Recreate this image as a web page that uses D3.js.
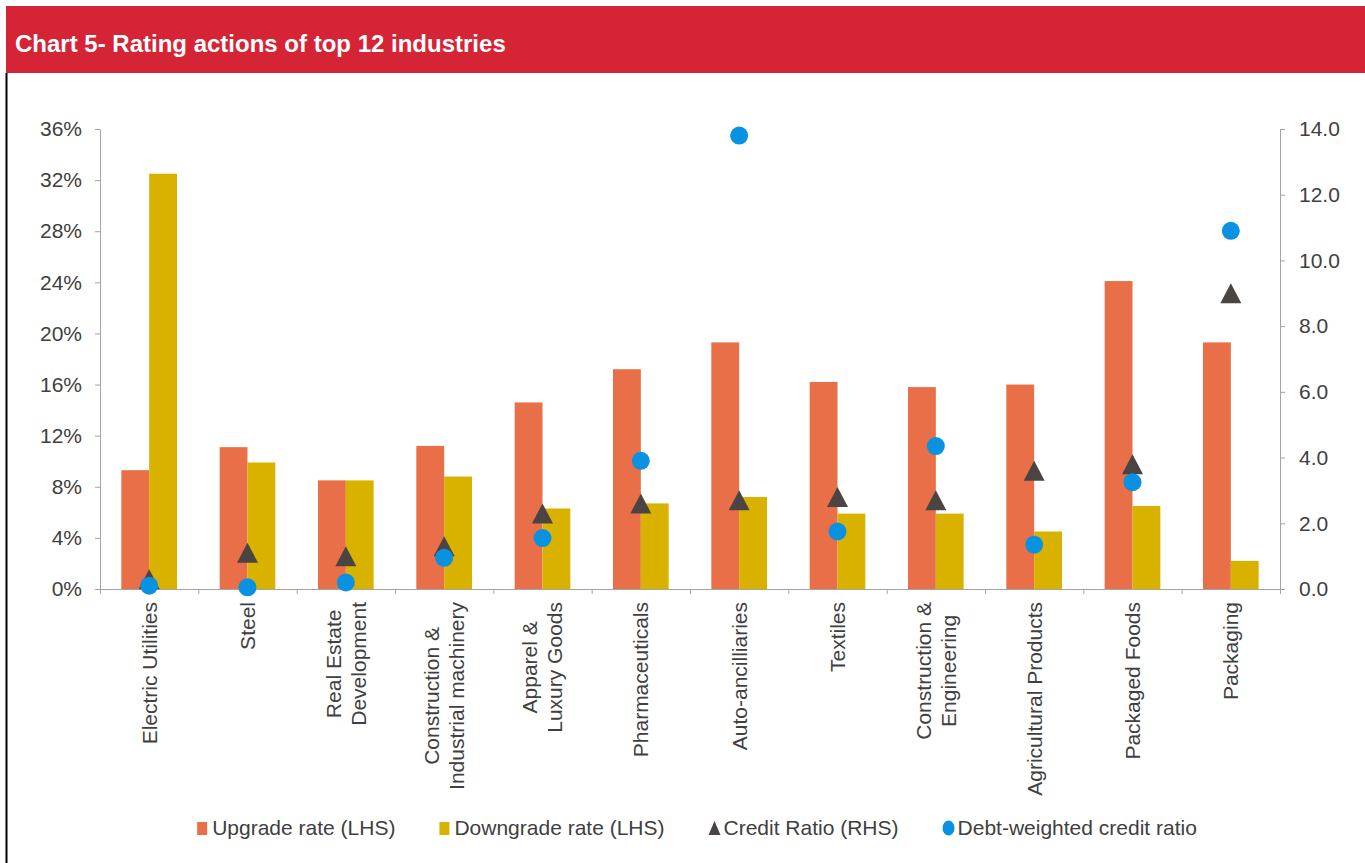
<!DOCTYPE html>
<html>
<head>
<meta charset="utf-8">
<script src="https://cdn.jsdelivr.net/npm/d3@7"></script>
<style>
  body { margin: 0; background: #fff; }
  svg { display: block; font-family: 'Liberation Sans', Arial, sans-serif; }
</style>
</head>
<body>
<div id="chart"></div>
<script>
// industries, line breaks as in the source chart
const categories = [
  'Electric Utilities', 'Steel', 'Real Estate\nDevelopment', 'Construction &\nIndustrial machinery',
  'Apparel &\nLuxury Goods', 'Pharmaceuticals', 'Auto-ancilliaries', 'Textiles',
  'Construction &\nEngineering', 'Agricultural Products', 'Packaged Foods', 'Packaging'
]
// LHS, percent
const upgradeRate = [9.3, 11.1, 8.5, 11.2, 14.6, 17.2, 19.3, 16.2, 15.8, 16.0, 24.1, 19.3]
const downgradeRate = [32.5, 9.9, 8.5, 8.8, 6.3, 6.7, 7.2, 5.9, 5.9, 4.5, 6.5, 2.2]
// RHS
const creditRatio = [0.3, 1.1, 1.0, 1.3, 2.3, 2.6, 2.7, 2.8, 2.7, 3.6, 3.8, 9.0]
const debtWeightedRatio = [0.1, 0.05, 0.2, 0.95, 1.55, 3.9, 13.8, 1.75, 4.35, 1.35, 3.25, 10.9]

const leftTicks = [0, 4, 8, 12, 16, 20, 24, 28, 32, 36]
const rightTicks = [0, 2, 4, 6, 8, 10, 12, 14]
const legendItems = [
  { label: 'Upgrade rate (LHS)', type: 'bar', color: '#e86f47' },
  { label: 'Downgrade rate (LHS)', type: 'bar', color: '#d9b200' },
  { label: 'Credit Ratio (RHS)', type: 'triangle', color: '#4a4543' },
  { label: 'Debt-weighted credit ratio', type: 'circle', color: '#0a92e2' },
]

const W = 1365, H = 863
const margin = { top: 129, right: 85, bottom: 274, left: 100 }
const axisColor = '#a3a3a3'
const textColor = '#404040'

const svg = d3.select('#chart').append('svg').attr('width', W).attr('height', H)

// header band + left rule
svg.append('rect').attr('x', 6).attr('y', 6).attr('width', W - 6).attr('height', 67).attr('fill', '#d42435')
svg.append('rect').attr('x', 5.5).attr('y', 73).attr('width', 2).attr('height', H - 73).attr('fill', '#000')
svg.append('text')
  .attr('x', 15).attr('y', 52)
  .attr('fill', '#fff')
  .style('font-size', '24px').style('font-weight', 'bold')
  .text('Chart 5- Rating actions of top 12 industries')

const x0 = margin.left, x1 = W - margin.right
const yBottom = H - margin.bottom

// scales
const x = d3.scaleBand().domain(categories).range([x0, x1]).padding(0)
const xSub = d3.scaleBand().domain(['up', 'down'])
  .range([x.bandwidth() * 0.217, x.bandwidth() * 0.783])
const xTick = d3.scaleLinear().domain([0, categories.length]).range([x0, x1])
const yL = d3.scaleLinear().domain([0, 36]).range([yBottom, margin.top])
const yR = d3.scaleLinear().domain([0, 14]).range([yBottom, margin.top])

// bars
const bars = svg.append('g')
categories.forEach((c, i) => {
  [['up', upgradeRate[i], legendItems[0].color], ['down', downgradeRate[i], legendItems[1].color]]
    .forEach(([k, v, col]) => {
      bars.append('rect')
        .attr('x', x(c) + xSub(k))
        .attr('y', yL(v))
        .attr('width', xSub.bandwidth())
        .attr('height', yL(0) - yL(v))
        .attr('fill', col)
    })
})

// axes
const styleAxis = g => {
  g.selectAll('path, line').attr('stroke', axisColor)
  g.selectAll('text').attr('fill', textColor).style('font-size', '21px').style('font-family', 'inherit')
}

svg.append('g')
  .attr('transform', `translate(${x0},0)`)
  .call(d3.axisLeft(yL).tickValues(leftTicks).tickSize(5).tickSizeOuter(0).tickPadding(13).tickFormat(d => d + '%'))
  .call(styleAxis)

svg.append('g')
  .attr('transform', `translate(${x1},0)`)
  .call(d3.axisRight(yR).tickValues(rightTicks).tickSize(5).tickSizeOuter(0).tickPadding(14).tickFormat(d3.format('.1f')))
  .call(styleAxis)

svg.append('g')
  .attr('transform', `translate(0,${yBottom})`)
  .call(d3.axisBottom(xTick).tickValues(d3.range(categories.length + 1)).tickSize(5).tickSizeOuter(0).tickFormat(''))
  .call(styleAxis)

// category labels, rotated, centred lines
const labelTop = yBottom + 13
const lineH = 25
categories.forEach(c => {
  const lines = c.split('\n')
  const cx = x(c) + x.bandwidth() / 2
  const g = svg.append('g')
  const t = g.append('text')
    .attr('text-anchor', 'middle')
    .attr('fill', textColor)
    .style('font-size', '21px')
  lines.forEach((l, j) => {
    t.append('tspan')
      .attr('x', 0)
      .attr('y', (j - (lines.length - 1) / 2) * lineH)
      .attr('dy', '0.35em')
      .text(l)
  })
  const maxLen = d3.max(t.selectAll('tspan').nodes(), n => n.getComputedTextLength())
  g.attr('transform', `translate(${cx},${labelTop + maxLen / 2}) rotate(-90)`)
})

// markers
const triPath = 'M0,-10L10.5,10L-10.5,10Z'
svg.append('g').selectAll('path')
  .data(categories)
  .join('path')
  .attr('d', triPath)
  .attr('fill', legendItems[2].color)
  .attr('transform', (c, i) => `translate(${x(c) + x.bandwidth() / 2},${yR(creditRatio[i])})`)

svg.append('g').selectAll('circle')
  .data(categories)
  .join('circle')
  .attr('cx', c => x(c) + x.bandwidth() / 2)
  .attr('cy', (c, i) => yR(debtWeightedRatio[i]))
  .attr('r', 9)
  .attr('fill', legendItems[3].color)

// legend
const legend = svg.append('g')
let lx = 0
legendItems.forEach(item => {
  const g = legend.append('g').attr('transform', `translate(${lx},0)`)
  if (item.type === 'bar') {
    g.append('rect').attr('x', 0).attr('y', -13).attr('width', 10).attr('height', 13).attr('fill', item.color)
  } else if (item.type === 'triangle') {
    g.append('path').attr('d', 'M6,-14L12,0L0,0Z').attr('fill', item.color)
  } else {
    g.append('ellipse').attr('cx', 6).attr('cy', -7).attr('rx', 6).attr('ry', 7.5).attr('fill', item.color)
  }
  const t = g.append('text')
    .attr('x', 15)
    .attr('y', 0)
    .attr('fill', textColor)
    .style('font-size', '21px')
    .text(item.label)
  lx += 15 + t.node().getComputedTextLength() + 44
})
const legendW = lx - 44
legend.attr('transform', `translate(${697 - legendW / 2},835)`)
</script>
</body>
</html>
